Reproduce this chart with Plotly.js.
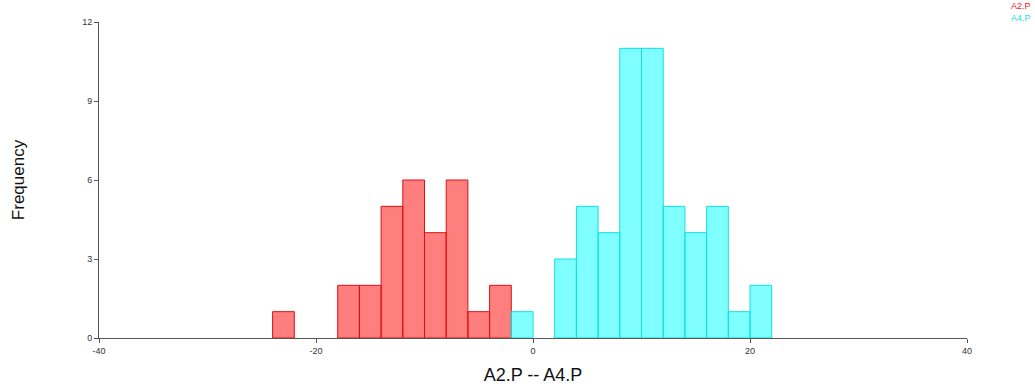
<!DOCTYPE html>
<html>
<head>
<meta charset="utf-8">
<script src="https://cdn.plot.ly/plotly-3.0.1.min.js"></script>
<style>html,body{margin:0;padding:0;background:#fff;}#chart{width:1035px;height:387px;}</style>
</head>
<body>
<div id="chart"></div>
<script>
// Histogram bins (left edges, width 2) and counts
const binWidth = 2;
const a2Starts = [-24, -22, -20, -18, -16, -14, -12, -10, -8, -6, -4];
const a2Counts = [1, 0, 0, 2, 2, 5, 6, 4, 6, 1, 2];
const a4Starts = [-2, 0, 2, 4, 6, 8, 10, 12, 14, 16, 18, 20];
const a4Counts = [1, 0, 3, 5, 4, 11, 11, 5, 4, 5, 1, 2];
const xTicks = [-40, -20, 0, 20, 40];
const yTicks = [0, 3, 6, 9, 12];
const seriesNames = ["A2.P", "A4.P"];

const centers = s => s.map(v => v + binWidth / 2);
const nonEmpty = c => c.map(v => (v === 0 ? null : v));

const traces = [
  {
    type: "bar", name: seriesNames[0], x: centers(a2Starts), y: nonEmpty(a2Counts), width: binWidth,
    marker: {color: "rgba(255,0,0,0.5)", line: {color: "#e01010", width: 1}},
    showlegend: false, hoverinfo: "x+y"
  },
  {
    type: "bar", name: seriesNames[1], x: centers(a4Starts), y: nonEmpty(a4Counts), width: binWidth,
    marker: {color: "rgba(0,255,255,0.5)", line: {color: "#10e0e0", width: 1}},
    showlegend: false, hoverinfo: "x+y"
  }
];

const tickFont = {family: "Liberation Sans, Arial, sans-serif", size: 9, color: "#333"};
const layout = {
  width: 1035, height: 387,
  margin: {l: 99, r: 68, t: 22, b: 49, pad: 0},
  paper_bgcolor: "#fff", plot_bgcolor: "#fff",
  barmode: "overlay", bargap: 0,
  xaxis: {
    range: [-40, 40], tickvals: xTicks, ticktext: xTicks.map(String),
    showgrid: false, zeroline: false, showline: true, linecolor: "#555", linewidth: 1,
    ticks: "outside", ticklen: 4, tickcolor: "#555", tickfont: tickFont,
    title: {text: "A2.P -- A4.P", font: {family: "Liberation Sans, Arial, sans-serif", size: 18, color: "#111"}, standoff: 13},
    fixedrange: true
  },
  yaxis: {
    range: [0, 12], tickvals: yTicks, ticktext: yTicks.map(String),
    showgrid: false, zeroline: false, showline: true, linecolor: "#555", linewidth: 1,
    ticks: "outside", ticklen: 4, tickcolor: "#555", tickfont: tickFont,
    title: {text: "Frequency", font: {family: "Liberation Sans, Arial, sans-serif", size: 17, color: "#111"}, standoff: 53},
    fixedrange: true
  },
  annotations: [
    {text: seriesNames[0], xref: "paper", yref: "paper", x: 1.0755, y: 1.0506, xanchor: "right", yanchor: "middle",
     showarrow: false, font: {family: "Liberation Sans, Arial, sans-serif", size: 9, color: "#ee2222"}},
    {text: seriesNames[1], xref: "paper", yref: "paper", x: 1.0755, y: 1.0127, xanchor: "right", yanchor: "middle",
     showarrow: false, font: {family: "Liberation Sans, Arial, sans-serif", size: 9, color: "#22e0e0"}}
  ]
};

Plotly.newPlot("chart", traces, layout, {displayModeBar: false, staticPlot: true});
</script>
</body>
</html>
